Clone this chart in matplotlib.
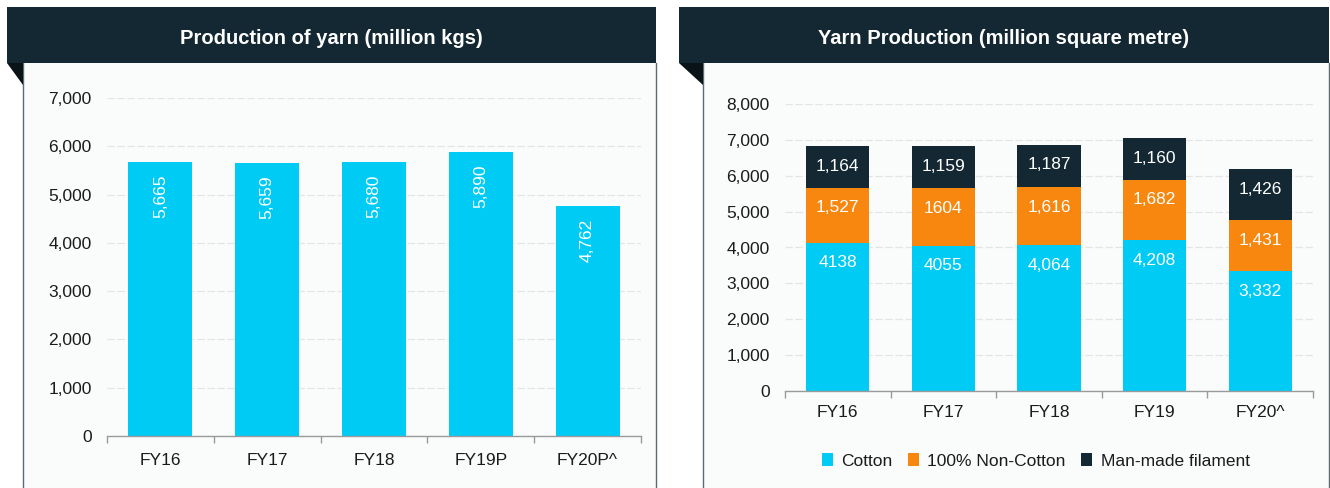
import numpy as np
import matplotlib
matplotlib.use('Agg')
import matplotlib.pyplot as plt
from matplotlib.patches import Rectangle, Polygon

plt.rcParams['font.family'] = ['Liberation Sans', 'DejaVu Sans']

# Data - left chart
yarn_years = ['FY16', 'FY17', 'FY18', 'FY19P', 'FY20P^']
yarn_kgs = [5665, 5659, 5680, 5890, 4762]
yarn_kgs_labels = ['5,665', '5,659', '5,680', '5,890', '4,762']

# Data - right chart
prod_years = ['FY16', 'FY17', 'FY18', 'FY19', 'FY20^']
cotton = [4138, 4055, 4064, 4208, 3332]
non_cotton = [1527, 1604, 1616, 1682, 1431]
filament = [1164, 1159, 1187, 1160, 1426]
cotton_labels = ['4138', '4055', '4,064', '4,208', '3,332']
non_cotton_labels = ['1,527', '1604', '1,616', '1,682', '1,431']
filament_labels = ['1,164', '1,159', '1,187', '1,160', '1,426']
series_names = ['Cotton', '100% Non-Cotton', 'Man-made filament']

# colours
CYAN = '#00cbf5'
ORANGE = '#f7870f'
DARK = '#132833'
GRID = '#e4e6e6'
BORDER = '#5c6b71'
TXT = '#1b1b1b'

W, H = 1330, 488
fig = plt.figure(figsize=(W/100, H/100), dpi=100)
fig.patch.set_facecolor('white')

def fx(x):
    return x / W

def fy(y):
    return 1 - y / H

def panel(x0, x1, xb, title):
    # body of the panel
    body = Rectangle((fx(xb), 0), fx(x1) - fx(xb), fy(63), transform=fig.transFigure,
                     facecolor='#fafcfc', edgecolor='none', zorder=0)
    fig.add_artist(body)
    for xx in (xb, x1):
        fig.add_artist(plt.Line2D([fx(xx), fx(xx)], [0, fy(63)], transform=fig.transFigure,
                                  color=BORDER, lw=1.0, zorder=1))
    # header
    head = Rectangle((fx(x0), fy(63)), fx(x1) - fx(x0), fy(7) - fy(63), transform=fig.transFigure,
                     facecolor=DARK, edgecolor='none', zorder=2)
    fig.add_artist(head)
    tri = Polygon([(fx(x0), fy(63)), (fx(xb), fy(63)), (fx(xb), fy(85))], closed=True,
                  transform=fig.transFigure, facecolor='#0a1418', edgecolor='none', zorder=2)
    fig.add_artist(tri)
    fig.text(fx((x0 + x1) / 2), fy(38), title, color='white', fontsize=14.5, fontweight='bold',
             ha='center', va='center', zorder=3)

panel(7, 656, 23, 'Production of yarn (million kgs)')
panel(679, 1329, 703, 'Yarn Production (million square metre)')

def style_axes(ax, ymax, labels):
    ax.set_facecolor('none')
    ax.set_xlim(-0.5, len(labels) - 0.5)
    ax.set_ylim(0, ymax)
    ax.set_yticks(np.arange(0, ymax + 1, 1000))
    ax.set_yticklabels(['{:,}'.format(v) for v in range(0, ymax + 1, 1000)])
    ax.yaxis.grid(True, color=GRID, linestyle=(0, (6, 2)), linewidth=0.9)
    ax.set_axisbelow(True)
    for s in ['top', 'right', 'left']:
        ax.spines[s].set_visible(False)
    ax.spines['bottom'].set_color('#9a9a9a')
    ax.spines['bottom'].set_linewidth(1.0)
    ax.set_xticks(range(len(labels)))
    ax.set_xticklabels(labels)
    ax.set_xticks(np.arange(-0.5, len(labels)), minor=True)
    ax.tick_params(axis='x', which='major', length=0, pad=12, labelsize=12.5, labelcolor=TXT)
    ax.tick_params(axis='x', which='minor', length=5, color='#9a9a9a', width=1.0)
    ax.tick_params(axis='y', length=0, pad=11, labelsize=12.5, labelcolor=TXT)

# Left chart
ax1 = fig.add_axes([fx(107), fy(436), fx(641) - fx(107), fy(98) - fy(436)])
style_axes(ax1, 7000, yarn_years)
x1 = np.arange(len(yarn_years))
ax1.bar(x1, yarn_kgs, width=0.6, color=CYAN, zorder=2)
for xi, v, lab in zip(x1, yarn_kgs, yarn_kgs_labels):
    ax1.annotate(lab, (xi, v), xytext=(0, -9), textcoords='offset points', rotation=90,
                 ha='center', va='top', color='white', fontsize=12.5)

# Right chart
ax2 = fig.add_axes([fx(785), fy(391), fx(1313) - fx(785), fy(104) - fy(391)])
style_axes(ax2, 8000, prod_years)
ax2.tick_params(axis='x', which='major', pad=10)
x2 = np.arange(len(prod_years))
bottom = np.zeros(len(prod_years))
handles = []
for vals, labs, col in [(cotton, cotton_labels, CYAN), (non_cotton, non_cotton_labels, ORANGE),
                        (filament, filament_labels, DARK)]:
    b = ax2.bar(x2, vals, width=0.6, bottom=bottom, color=col, zorder=2)
    handles.append(b)
    tops = bottom + np.array(vals)
    for xi, t, lab in zip(x2, tops, labs):
        ax2.annotate(lab, (xi, t), xytext=(0, -14.5), textcoords='offset points',
                     ha='center', va='center', color='white', fontsize=12.5)
    bottom = tops

fig.legend(handles, series_names, loc='center', bbox_to_anchor=(fx(1036), fy(461)), ncol=3,
           frameon=False, fontsize=12.5, handlelength=0.6, handleheight=0.7, handletextpad=0.5,
           columnspacing=0.9, labelcolor=TXT)

fig.savefig('out.png', dpi=100, facecolor='white')
